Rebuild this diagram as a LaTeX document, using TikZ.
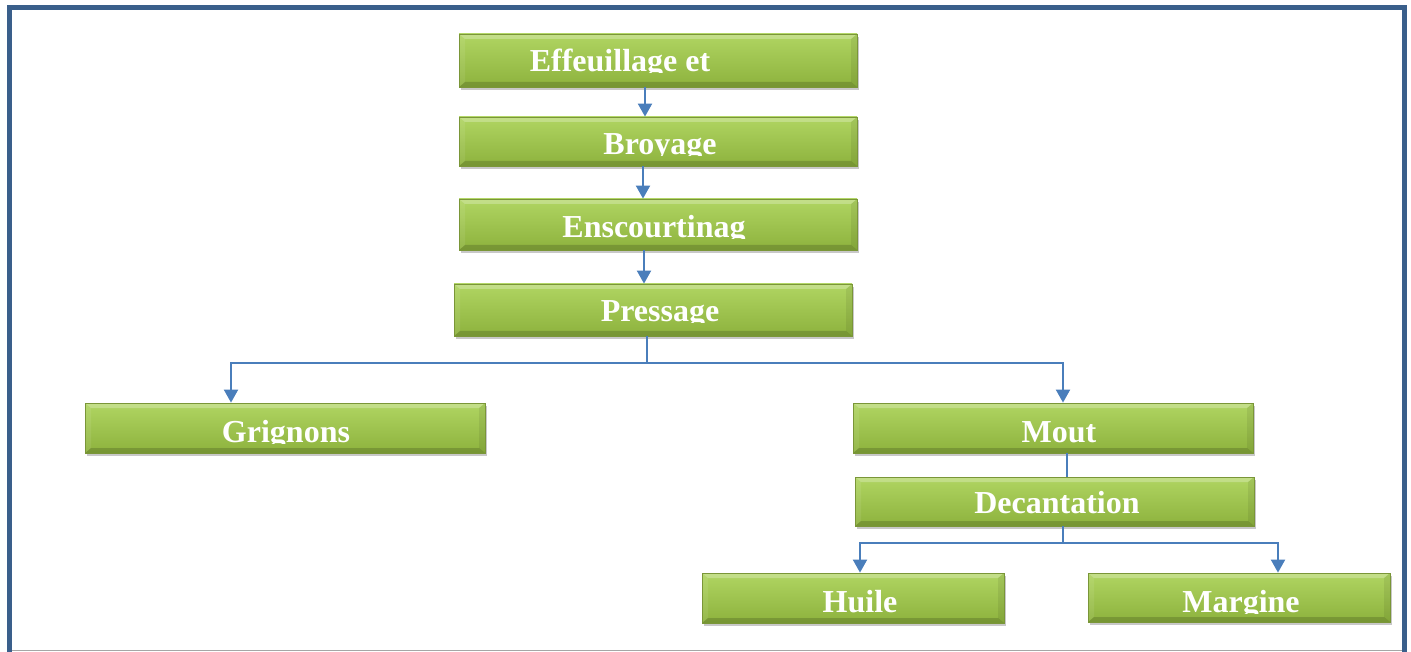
\documentclass[tikz,border=0pt]{standalone}
\usepackage{fontspec}
\setmainfont{Liberation Serif}
\usetikzlibrary{arrows.meta,shadows}
\definecolor{framecol}{HTML}{3A5F8B}
\definecolor{boxtop}{HTML}{B0D562}
\definecolor{boxbot}{HTML}{8DB23D}
\definecolor{boxedge}{HTML}{7A9638}
\definecolor{arrcol}{HTML}{4A7EBB}
\tikzset{
  greenbox/.style={rectangle, inner sep=0pt, minimum width=#1, top color=boxtop, bottom color=boxbot,
    draw=boxedge, line width=0.8pt,
    drop shadow={shadow xshift=1.5pt, shadow yshift=-3pt, opacity=0.3, fill=black!70},
    path picture={
      \fill[white,opacity=0.25] (path picture bounding box.north west) -- (path picture bounding box.north east)
        -- ([xshift=-6pt,yshift=-5pt]path picture bounding box.north east) -- ([xshift=6pt,yshift=-5pt]path picture bounding box.north west) -- cycle;
      \fill[black,opacity=0.16] (path picture bounding box.south west) -- (path picture bounding box.south east)
        -- ([xshift=-6pt,yshift=5pt]path picture bounding box.south east) -- ([xshift=6pt,yshift=5pt]path picture bounding box.south west) -- cycle;
      \fill[black,opacity=0.07] (path picture bounding box.south east) -- (path picture bounding box.north east)
        -- ([xshift=-6pt,yshift=-5pt]path picture bounding box.north east) -- ([xshift=-6pt,yshift=5pt]path picture bounding box.south east) -- cycle;
      \fill[white,opacity=0.08] (path picture bounding box.south west) -- (path picture bounding box.north west)
        -- ([xshift=6pt,yshift=-5pt]path picture bounding box.north west) -- ([xshift=6pt,yshift=5pt]path picture bounding box.south west) -- cycle;
    }},
  lbl/.style={anchor=base, inner sep=0pt, text=white, font=\bfseries\fontsize{32}{36}\selectfont},
  arr/.style={draw=arrcol, line width=2pt, -{Triangle[width=14pt,length=13pt]}},
  lin/.style={draw=arrcol, line width=2pt},
}
\newcommand\cliplabel[5]{%
  \begin{scope}\clip (0,0) rectangle (1411,#4);
    \node[lbl] (#1) at (#2,#3) {#5};
  \end{scope}}
\begin{document}
\begin{tikzpicture}[x=1pt,y=-1pt]
\useasboundingbox (0,0) rectangle (1411,652);
\fill[white] (0,0) rectangle (1411,652);
% frame
\draw[framecol, line width=5pt] (9.5,652) -- (9.5,7.5) -- (1404.5,7.5) -- (1404.5,652);
\draw[color=black!35, line width=1.5pt] (12,650.5) -- (1402,650.5);
% boxes
\node[greenbox=398pt, minimum height=53pt] (eff) at (658,60.5) {};
\node[greenbox=398pt, minimum height=49pt] (bro) at (658,141.5) {};
\node[greenbox=398pt, minimum height=51pt] (ens) at (658,224.5) {};
\node[greenbox=398pt, minimum height=52pt] (pre) at (653,310) {};
\node[greenbox=400pt, minimum height=50pt] (gri) at (285,428) {};
\node[greenbox=400pt, minimum height=50pt] (mout) at (1053,428) {};
\node[greenbox=399pt, minimum height=49pt] (dec) at (1054.5,501.5) {};
\node[greenbox=302pt, minimum height=50pt] (hui) at (853,598) {};
\node[greenbox=302pt, minimum height=49pt] (mar) at (1239,597.5) {};
% labels
\cliplabel{teff}{620}{72}{73}{Effeuillage et}
\cliplabel{tbro}{660}{155}{156}{Broyage}
\cliplabel{tens}{654}{238}{239}{Enscourtinag}
\cliplabel{tpre}{660}{322}{323}{Pressage}
\cliplabel{tgri}{286}{442}{443}{Grignons}
\cliplabel{tmout}{1059}{442}{443}{Mout}
\cliplabel{tdec}{1057}{513}{514}{Decantation}
\cliplabel{thui}{860}{612}{613}{Huile}
\cliplabel{tmar}{1241}{612}{613}{Margine}
% connectors
\draw[arr] ([xshift=-13pt]eff.south) -- ([xshift=-13pt]bro.north);
\draw[arr] ([xshift=-15pt]bro.south) -- ([xshift=-15pt]bro.south |- ens.north);
\draw[arr] ([xshift=-14pt]ens.south) -- ([xshift=-14pt]ens.south |- pre.north);
\coordinate (psplit) at ([xshift=-6pt,yshift=-27pt]pre.south);
\draw[lin] ([xshift=-6pt]pre.south) -- (psplit);
\draw[arr] (psplit) -- ([xshift=-54pt,yshift=-27pt]pre.south -| gri.north) -- ([xshift=-54pt]gri.north);
\draw[arr] (psplit) -- ([xshift=10pt,yshift=-27pt]pre.south -| mout.north) -- ([xshift=10pt]mout.north);
\draw[lin] ([xshift=14pt]mout.south) -- ([xshift=14pt]mout.south |- dec.north);
\coordinate (dsplit) at ([xshift=8.5pt,yshift=-17pt]dec.south);
\draw[lin] ([xshift=8.5pt]dec.south) -- (dsplit);
\draw[arr] (dsplit) -- ([xshift=7pt]dsplit -| hui.north) -- ([xshift=7pt]hui.north);
\draw[arr] (dsplit) -- ([xshift=39pt]dsplit -| mar.north) -- ([xshift=39pt]mar.north);
\end{tikzpicture}
\end{document}
